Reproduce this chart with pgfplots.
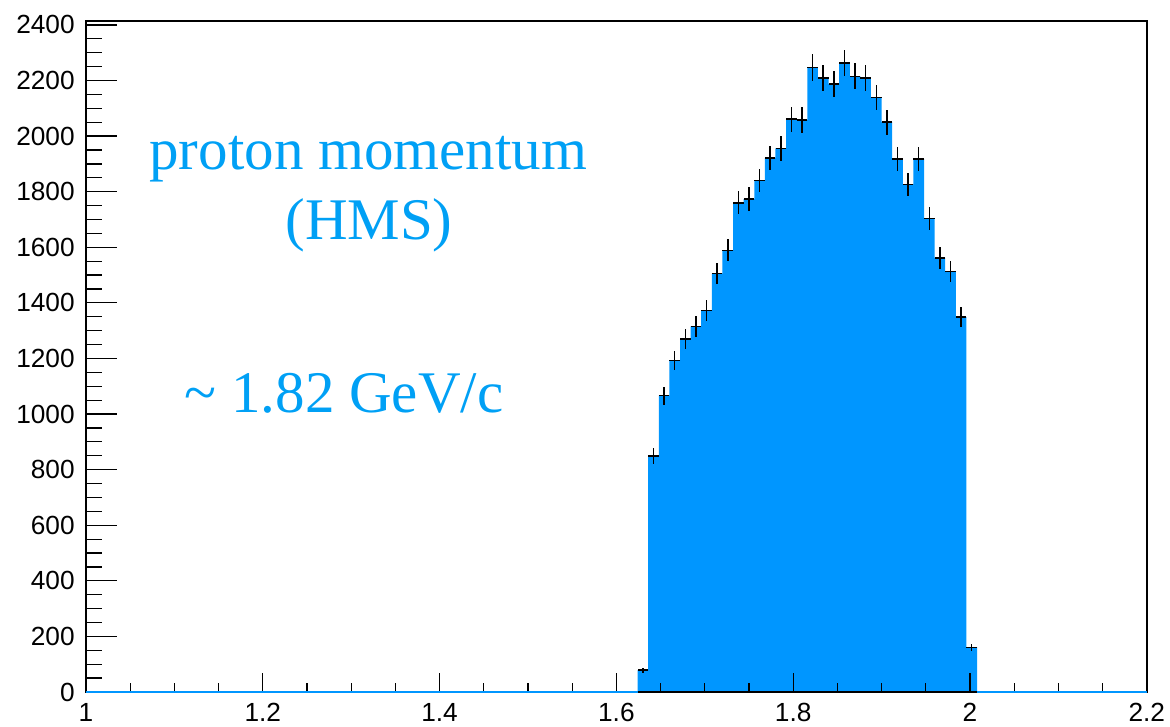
\documentclass[border=0pt]{standalone}
\usepackage{fontspec}
\setmainfont{Liberation Serif}
\newfontfamily\arial{Liberation Sans}
\usepackage{pgfplots}
\pgfplotsset{compat=1.18}
\usepackage{pgfplotstable}
\definecolor{histblue}{RGB}{0,150,255}
\definecolor{txtblue}{RGB}{0,160,245}

\pgfplotstableread{
x y
1.000 0
1.624 79
1.636 849
1.648 1066
1.660 1192
1.672 1270
1.684 1315
1.696 1373
1.708 1505
1.720 1589
1.732 1760
1.744 1773
1.756 1840
1.768 1922
1.780 1956
1.792 2061
1.804 2058
1.816 2247
1.828 2209
1.840 2187
1.852 2263
1.864 2215
1.876 2209
1.888 2139
1.900 2050
1.912 1917
1.924 1826
1.936 1917
1.948 1703
1.960 1562
1.972 1513
1.984 1349
1.996 161
2.008 0
2.200 0
}\histedges

\pgfplotstableread{
x y ey
1.630 79 8.9
1.642 849 29.1
1.654 1066 32.6
1.666 1192 34.5
1.678 1270 35.6
1.690 1315 36.3
1.702 1373 37.1
1.714 1505 38.8
1.726 1589 39.9
1.738 1760 42.0
1.750 1773 42.1
1.762 1840 42.9
1.774 1922 43.8
1.786 1956 44.2
1.798 2061 45.4
1.810 2058 45.4
1.822 2247 47.4
1.834 2209 47.0
1.846 2187 46.8
1.858 2263 47.6
1.870 2215 47.1
1.882 2209 47.0
1.894 2139 46.2
1.906 2050 45.3
1.918 1917 43.8
1.930 1826 42.7
1.942 1917 43.8
1.954 1703 41.3
1.966 1562 39.5
1.978 1513 38.9
1.990 1349 36.7
2.002 161 12.7
}\histerr

\begin{document}
\begin{tikzpicture}
\begin{axis}[
  at={(0,0)}, anchor=south west,
  scale only axis, width=424.3pt, height=268.4pt,
  xmin=1, xmax=2.2, ymin=0, ymax=2414,
  xtick={1,1.2,1.4,1.6,1.8,2,2.2},
  ytick={0,200,400,600,800,1000,1200,1400,1600,1800,2000,2200,2400},
  minor x tick num=3, minor y tick num=3,
  tick align=inside, xtick pos=bottom, ytick pos=left,
  xtick style={/pgfplots/major tick length=7.6pt,/pgfplots/minor tick length=3.7pt, black, line width=0.5pt},
  ytick style={/pgfplots/major tick length=12.5pt,/pgfplots/minor tick length=6.3pt, black, line width=0.5pt},
  axis line style={black, line width=0.6pt},
  ticklabel style={font=\arial\fontsize{10.5}{12}\selectfont},
  /pgf/number format/assume math mode=true,
  /pgf/number format/1000 sep={},
  xticklabel style={yshift=-1pt},
  yticklabel style={xshift=-1pt},
  set layers, axis on top,
  clip=false,
]
\addplot[const plot mark left, draw=none, fill=histblue] table[x=x,y=y] {\histedges} \closedcycle;
\addplot[on layer=axis foreground, histblue, line width=1.1pt] coordinates {(1,0) (2.2,0)};
\addplot[on layer=axis foreground, black, line width=1.1pt] coordinates {(1.624,0) (2.008,0)};
\addplot[only marks, mark=-, mark size=2.12pt, mark options={black, line width=0.6pt},
  error bars/.cd, y dir=both, y explicit,
  error mark=none, error bar style={black, line width=0.6pt}]
  table[x=x, y=y, y error=ey] {\histerr};
\node[anchor=base, text=txtblue, font=\fontsize{23.6}{28}\selectfont] at (axis cs:1.3193,1878) {proton momentum};
\node[anchor=base, text=txtblue, font=\fontsize{23.6}{28}\selectfont] at (axis cs:1.3201,1629) {(HMS)};
\node[anchor=base, text=txtblue, font=\fontsize{23.6}{28}\selectfont] at (axis cs:1.2919,1004) {\textasciitilde\ 1.82 GeV/c};
\end{axis}
\pgfresetboundingbox
\path[use as bounding box] (-34.4pt,-13.6pt) rectangle (433.6pt,276.8pt);
\end{tikzpicture}
\end{document}
